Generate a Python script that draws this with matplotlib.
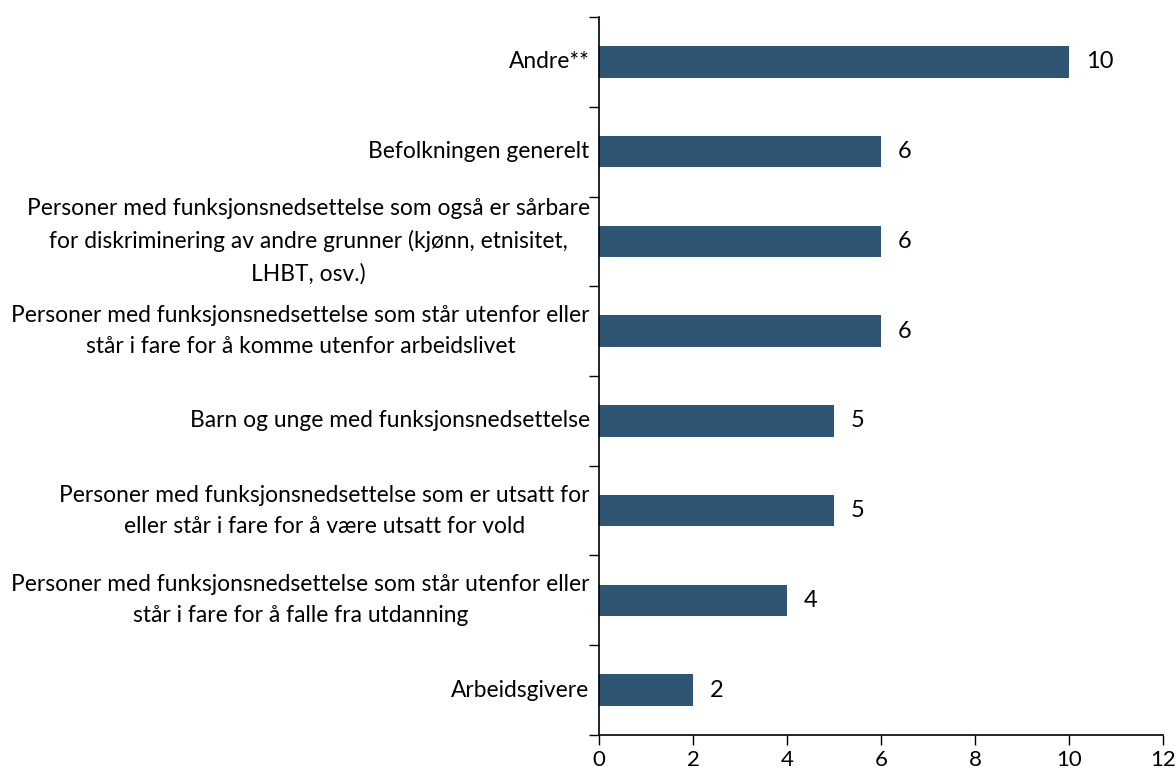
import matplotlib.pyplot as plt
import numpy as np

plt.rcParams['font.family'] = ['Lato', 'DejaVu Sans']

# categories from top to bottom
categories = [
    "Andre**",
    "Befolkningen generelt",
    "Personer med funksjonsnedsettelse som også er sårbare\nfor diskriminering av andre grunner (kjønn, etnisitet,\nLHBT, osv.)",
    "Personer med funksjonsnedsettelse som står utenfor eller\nstår i fare for å komme utenfor arbeidslivet",
    "Barn og unge med funksjonsnedsettelse",
    "Personer med funksjonsnedsettelse som er utsatt for\neller står i fare for å være utsatt for vold",
    "Personer med funksjonsnedsettelse som står utenfor eller\nstår i fare for å falle fra utdanning",
    "Arbeidsgivere",
]
values = [10, 6, 6, 6, 5, 5, 4, 2]
xticks = [0, 2, 4, 6, 8, 10, 12]

bar_color = "#2E5574"
fs = 16.4

fig = plt.figure(figsize=(11.76, 7.74), dpi=100)
ax = fig.add_axes([0.5094, 0.0504, 0.4796, 0.9276])

n = len(categories)
ypos = np.arange(n)[::-1]
ax.barh(ypos, values, height=0.35, color=bar_color)

for y, v in zip(ypos, values):
    ax.text(v + 0.36, y, str(v), va="center", ha="left", fontsize=17)

ax.set_xlim(0, 12)
ax.set_ylim(-0.5, n - 0.5)
ax.set_xticks(xticks)
ax.set_xticklabels([str(t) for t in xticks], fontsize=16)

# ticks on category boundaries, labels centered on bars
ax.set_yticks(np.arange(-0.5, n, 1.0))
ax.set_yticklabels([])
ax.tick_params(axis="y", length=7, width=1, direction="out")
ax.tick_params(axis="x", length=7, width=1, direction="out", pad=4)
for y, lab in zip(ypos, categories):
    ax.text(-0.2, y, lab, ha="right", va="center", fontsize=fs,
            linespacing=1.6, multialignment="center",
            transform=ax.transData)

for s in ["top", "right"]:
    ax.spines[s].set_visible(False)
ax.spines["left"].set_linewidth(1.2)
ax.spines["bottom"].set_linewidth(1.2)

fig.savefig("out.png", dpi=100)
